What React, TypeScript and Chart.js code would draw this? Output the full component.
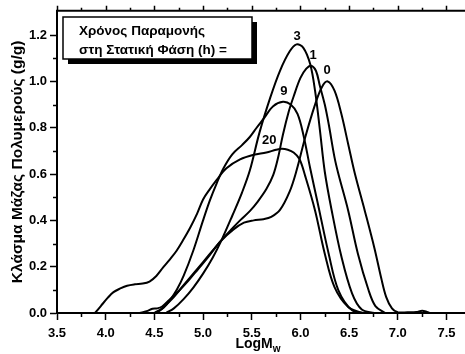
import React, { useEffect, useRef } from "react";
import { Chart, registerables } from "chart.js";

Chart.register(...registerables);

// ---- axis ticks ----
const xTickValues = [3.5, 4.0, 4.5, 5.0, 5.5, 6.0, 6.5, 7.0, 7.5];
const xMinorTicks = [3.75, 4.25, 4.75, 5.25, 5.75, 6.25, 6.75, 7.25];
const yTickValues = [0.0, 0.2, 0.4, 0.6, 0.8, 1.0, 1.2];
const yMinorTicks = [0.1, 0.3, 0.5, 0.7, 0.9, 1.1];

// ---- series (LogMw vs mass fraction) ----
const seriesNames = ["0", "1", "3", "9", "20"];

const logMw0 = [4.35, 4.42, 4.48, 4.53, 4.58, 4.65, 4.75, 4.85, 4.95, 5.05, 5.18, 5.31, 5.42, 5.52, 5.62, 5.7, 5.79, 5.89, 5.96, 6.05, 6.15, 6.22, 6.28, 6.35, 6.42, 6.49, 6.56, 6.66, 6.76, 6.83, 6.88, 6.94, 7.0, 7.1, 7.19, 7.25, 7.3, 7.33];
const frac0 = [0.0, 0.008, 0.018, 0.02, 0.028, 0.055, 0.095, 0.14, 0.19, 0.24, 0.31, 0.36, 0.39, 0.4, 0.405, 0.415, 0.445, 0.525, 0.615, 0.76, 0.9, 0.975, 1.0, 0.96, 0.86, 0.73, 0.6, 0.443, 0.28, 0.15, 0.07, 0.02, 0.003, 0.003, 0.004, 0.01, 0.005, 0.0];

const logMw1 = [4.5, 4.58, 4.68, 4.8, 4.9, 5.0, 5.1, 5.19, 5.3, 5.38, 5.48, 5.56, 5.65, 5.72, 5.77, 5.82, 5.88, 5.93, 6.0, 6.06, 6.11, 6.16, 6.2, 6.25, 6.29, 6.35, 6.39, 6.49, 6.59, 6.7, 6.77, 6.87];
const frac1 = [0.0, 0.02, 0.06, 0.12, 0.17, 0.22, 0.27, 0.315, 0.365, 0.4, 0.44, 0.48, 0.535, 0.595, 0.67, 0.77, 0.87, 0.935, 1.015, 1.055, 1.068, 1.045, 0.98, 0.9, 0.816, 0.672, 0.6, 0.443, 0.256, 0.098, 0.03, 0.0];

const logMw3 = [4.62, 4.7, 4.8, 4.9, 5.0, 5.1, 5.19, 5.3, 5.4, 5.48, 5.58, 5.69, 5.79, 5.89, 5.96, 6.03, 6.1, 6.15, 6.2, 6.25, 6.32, 6.42, 6.53, 6.63, 6.76];
const frac3 = [0.0, 0.02, 0.06, 0.11, 0.17, 0.24, 0.315, 0.42, 0.52, 0.615, 0.78, 0.93, 1.046, 1.13, 1.16, 1.145, 1.075, 0.96, 0.79, 0.61, 0.445, 0.245, 0.085, 0.015, 0.0];

const logMw9 = [4.52, 4.6, 4.66, 4.73, 4.8, 4.9, 5.0, 5.07, 5.14, 5.21, 5.3, 5.4, 5.48, 5.55, 5.62, 5.72, 5.82, 5.9, 5.97, 6.03, 6.1, 6.18, 6.29, 6.39, 6.53, 6.66];
const frac9 = [0.0, 0.025, 0.055, 0.1, 0.16, 0.27, 0.4, 0.486, 0.56, 0.625, 0.685, 0.725, 0.76, 0.8, 0.838, 0.893, 0.912, 0.9, 0.86, 0.77, 0.625, 0.47, 0.256, 0.098, 0.012, 0.0];

const logMw20 = [3.89, 3.95, 4.02, 4.08, 4.15, 4.22, 4.3, 4.38, 4.45, 4.52, 4.59, 4.66, 4.73, 4.8, 4.87, 4.94, 5.0, 5.07, 5.14, 5.24, 5.38, 5.52, 5.65, 5.75, 5.81, 5.87, 5.93, 5.99, 6.05, 6.15, 6.25, 6.35, 6.49, 6.63];
const frac20 = [0.0, 0.03, 0.065, 0.09, 0.106, 0.118, 0.124, 0.127, 0.136, 0.16, 0.197, 0.232, 0.27, 0.318, 0.37, 0.43, 0.49, 0.535, 0.575, 0.625, 0.663, 0.683, 0.693, 0.705, 0.709, 0.705, 0.693, 0.665, 0.59, 0.443, 0.256, 0.112, 0.026, 0.0];

// curve label anchor points (data coordinates)
const labelLogMw = [6.275, 6.13, 5.967, 5.83, 5.68];
const labelFrac = [1.046, 1.111, 1.193, 0.956, 0.747];

const legendLines = ["Χρόνος Παραμονής", "στη Στατική Φάση (h) ="];
const yTitle = "Κλάσμα Μάζας Πολυμερούς (g/g)";
const xTitleMain = "LogM";
const xTitleSub = "w";

const FONT = '"Liberation Sans", Arial, Helvetica, sans-serif';

const allX = [logMw0, logMw1, logMw3, logMw9, logMw20];
const allY = [frac0, frac1, frac3, frac9, frac20];

const decorPlugin = {
  id: "decor",
  afterDraw(chart: any) {
    const { ctx, chartArea: ca, scales } = chart;
    const x = scales.x;
    const y = scales.y;
    ctx.save();
    ctx.strokeStyle = "#000";
    ctx.fillStyle = "#000";

    // minor ticks, top axis ticks
    ctx.lineWidth = 1.5;
    ctx.beginPath();
    xMinorTicks.forEach((v) => {
      const px = Math.round(x.getPixelForValue(v)) + 0.5;
      ctx.moveTo(px, ca.bottom);
      ctx.lineTo(px, ca.bottom + 4);
      ctx.moveTo(px, ca.top);
      ctx.lineTo(px, ca.top - 3);
    });
    xTickValues.forEach((v) => {
      const px = Math.round(x.getPixelForValue(v)) + 0.5;
      ctx.moveTo(px, ca.top);
      ctx.lineTo(px, ca.top - 5);
    });
    yMinorTicks.forEach((v) => {
      const py = Math.round(y.getPixelForValue(v)) + 0.5;
      ctx.moveTo(ca.left, py);
      ctx.lineTo(ca.left - 4, py);
    });
    ctx.stroke();

    // top axis line
    ctx.lineWidth = 2;
    ctx.beginPath();
    ctx.moveTo(ca.left - 1, ca.top);
    ctx.lineTo(ca.right, ca.top);
    ctx.stroke();

    // legend box with shadow
    const bx = 63, by = 17, bw = 189, bh = 42;
    ctx.fillStyle = "#000";
    ctx.fillRect(bx + 5, by + 5, bw, bh);
    ctx.fillStyle = "#fff";
    ctx.fillRect(bx, by, bw, bh);
    ctx.lineWidth = 1.5;
    ctx.strokeRect(bx, by, bw, bh);
    ctx.fillStyle = "#000";
    ctx.font = `bold 13.5px ${FONT}`;
    ctx.textAlign = "left";
    ctx.textBaseline = "middle";
    ctx.fillText(legendLines[0], 79, 31);
    ctx.fillText(legendLines[1], 79, 50);

    // curve labels
    ctx.font = `bold 13px ${FONT}`;
    ctx.textAlign = "center";
    ctx.textBaseline = "middle";
    seriesNames.forEach((name, i) => {
      ctx.fillText(name, x.getPixelForValue(labelLogMw[i]), y.getPixelForValue(labelFrac[i]));
    });

    // x title with subscript
    ctx.font = `bold 14px ${FONT}`;
    const w1 = ctx.measureText(xTitleMain).width;
    ctx.font = `bold 10px ${FONT}`;
    const w2 = ctx.measureText(xTitleSub).width;
    const cx = (ca.left + ca.right) / 2 - 3;
    const startX = cx - (w1 + w2) / 2;
    ctx.textAlign = "left";
    ctx.textBaseline = "alphabetic";
    ctx.font = `bold 14px ${FONT}`;
    ctx.fillText(xTitleMain, startX, 348);
    ctx.font = `bold 10px ${FONT}`;
    ctx.fillText(xTitleSub, startX + w1, 352);

    ctx.restore();
  },
};

export default function App() {
  const ref = useRef<HTMLCanvasElement | null>(null);
  useEffect(() => {
    if (!ref.current) return;
    const datasets = seriesNames.map((name, i) => ({
      label: name,
      data: allX[i].map((v, j) => ({ x: v, y: allY[i][j] })),
      showLine: true,
      borderColor: "#000",
      backgroundColor: "#000",
      borderWidth: 2,
      pointRadius: 0,
      tension: 0.35,
      fill: false,
    }));
    const chart = new Chart(ref.current, {
      type: "scatter",
      data: { datasets },
      options: {
        animation: false,
        responsive: false,
        devicePixelRatio: 1,
        layout: { padding: { top: 10, right: 0, left: 0, bottom: 0 } },
        plugins: { legend: { display: false }, tooltip: { enabled: false }, title: { display: false } },
        scales: {
          x: {
            type: "linear",
            min: 3.5,
            max: 7.69,
            afterBuildTicks: (s: any) => {
              s.ticks = xTickValues.map((v) => ({ value: v }));
            },
            afterFit: (s: any) => {
              s.height = 41;
            },
            ticks: {
              callback: (v: any) => Number(v).toFixed(1),
              color: "#000",
              font: { family: FONT, weight: "bold", size: 13 },
              padding: 6,
              maxRotation: 0,
              autoSkip: false,
            },
            grid: { drawOnChartArea: false, drawTicks: true, tickLength: 7, tickWidth: 1.5, tickColor: "#000" },
            border: { display: true, color: "#000", width: 2 },
          },
          y: {
            type: "linear",
            min: 0,
            max: 1.305,
            afterBuildTicks: (s: any) => {
              s.ticks = yTickValues.map((v) => ({ value: v }));
            },
            afterFit: (s: any) => {
              s.width = 57;
            },
            ticks: {
              callback: (v: any) => Number(v).toFixed(1),
              color: "#000",
              font: { family: FONT, weight: "bold", size: 13 },
              padding: 3,
              autoSkip: false,
            },
            grid: { drawOnChartArea: false, drawTicks: true, tickLength: 7, tickWidth: 1.5, tickColor: "#000" },
            border: { display: true, color: "#000", width: 2 },
            title: {
              display: true,
              text: yTitle,
              color: "#000",
              font: { family: FONT, weight: "bold", size: 15.5 },
              padding: { top: 8, bottom: 0 },
            },
          },
        },
      },
      plugins: [decorPlugin],
    } as any);
    return () => chart.destroy();
  }, []);
  return (
    <div style={{ position: "fixed", left: 0, top: 0, width: 465, height: 354, background: "#fff" }}>
      <canvas ref={ref} width={465} height={354} style={{ display: "block", width: 465, height: 354 }} />
    </div>
  );
}
